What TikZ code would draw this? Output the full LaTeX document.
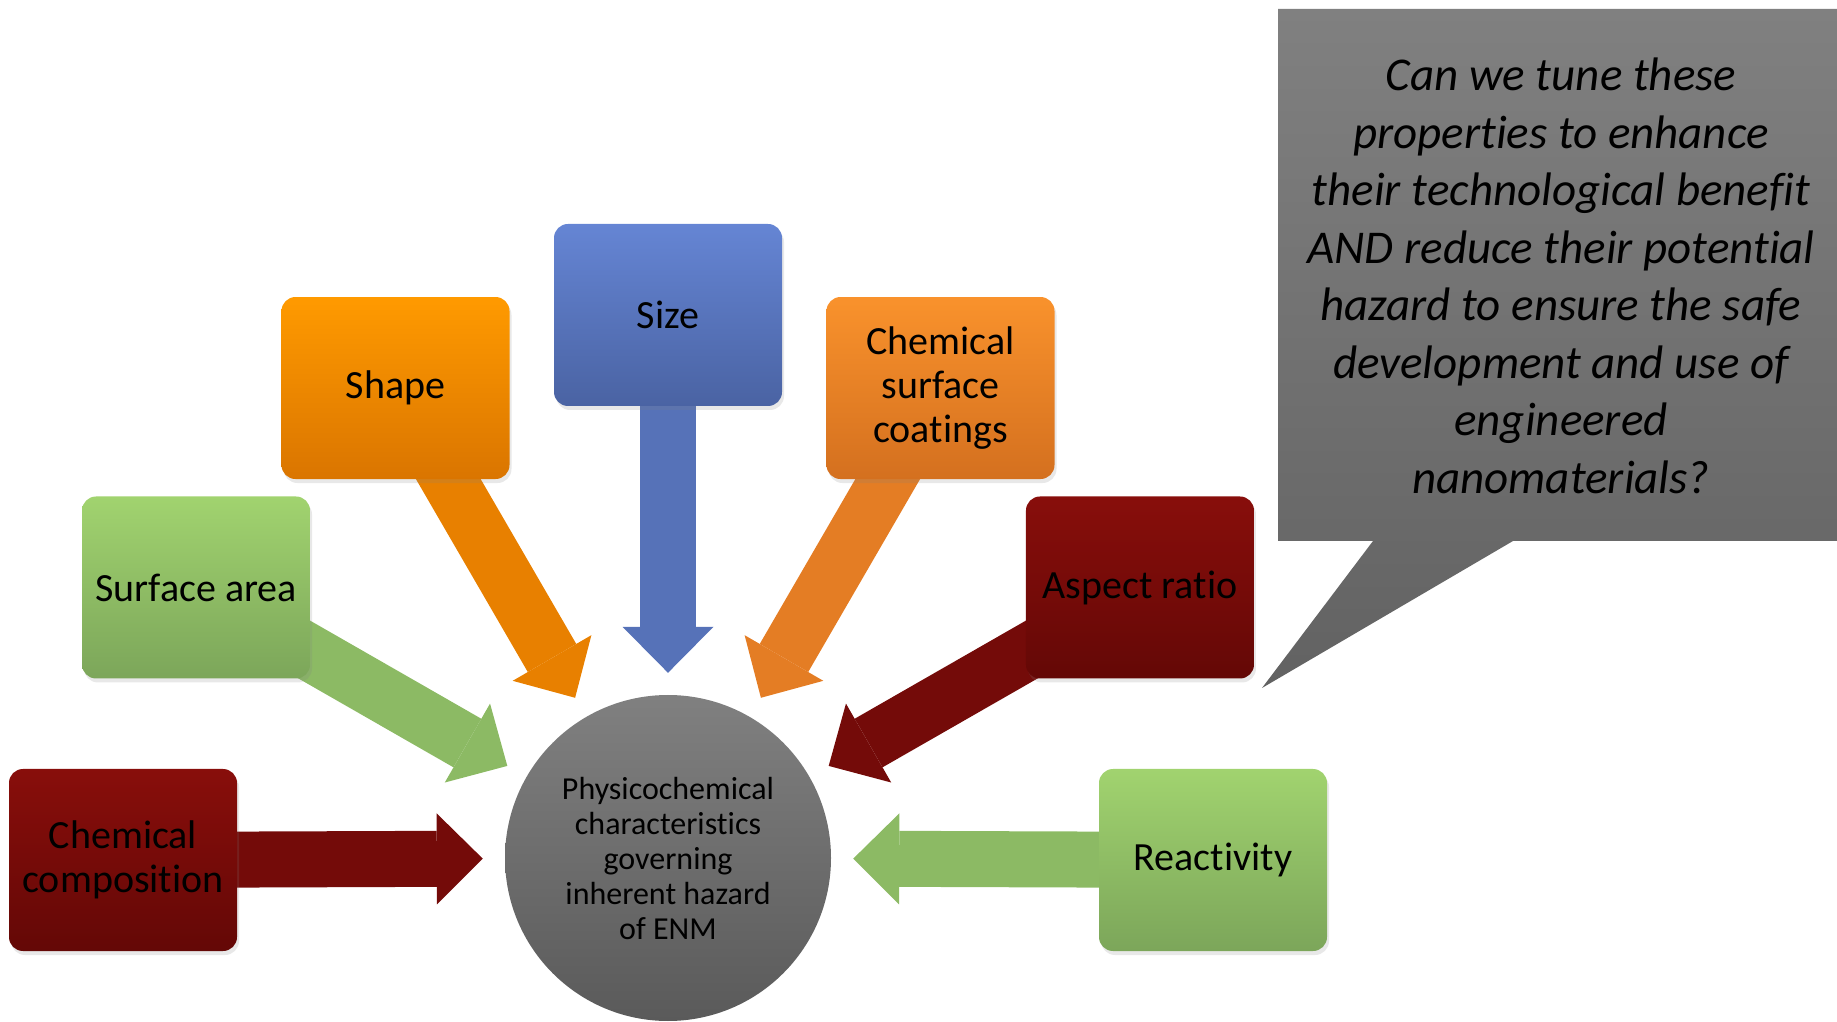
\documentclass[tikz,border=0pt]{standalone}
\usepackage{fontspec}
\setmainfont{Carlito}[Ligatures=NoCommon]
\usepackage{tikz}
\usetikzlibrary{calc}
\usetikzlibrary{arrows.meta}
\usetikzlibrary{shadows}
\pgfdeclarelayer{background}
\pgfsetlayers{background,main}

\definecolor{dredhi}{RGB}{136,14,11}
\definecolor{dredlo}{RGB}{100,8,6}
\definecolor{dredmid}{RGB}{116,11,9}
\definecolor{greenhi}{RGB}{161,211,111}
\definecolor{greenlo}{RGB}{124,166,90}
\definecolor{greenmid}{RGB}{140,186,100}
\definecolor{orangehi}{RGB}{255,154,0}
\definecolor{orangelo}{RGB}{218,117,0}
\definecolor{orangemid}{RGB}{232,128,0}
\definecolor{bluehi}{RGB}{101,133,212}
\definecolor{bluelo}{RGB}{74,99,163}
\definecolor{bluemid}{RGB}{86,114,184}
\definecolor{amberhi}{RGB}{249,146,44}
\definecolor{amberlo}{RGB}{212,112,31}
\definecolor{ambermid}{RGB}{228,125,36}
\definecolor{greyhi}{RGB}{128,128,128}
\definecolor{greylo}{RGB}{90,90,90}
\definecolor{bubblelo}{RGB}{98,98,98}

\begin{document}
\begin{tikzpicture}[x=1pt,y=1pt,
		box/.style={rectangle, rounded corners=14pt, minimum width=228pt, minimum height=182pt,
			align=center, font=\fontsize{40}{44}\selectfont,
			drop shadow={opacity=.18, shadow xshift=2pt, shadow yshift=-4pt}},
		fat/.style={line width=56pt, -{Triangle[width=91pt,length=46pt,line width=0pt]}, shorten >=22pt},
	]
	\useasboundingbox (0,0) rectangle (1837,1021);

	\node [circle, minimum size=326pt, inner sep=0pt, top color=greyhi, bottom color=greylo,
		align=center, font=\fontsize{32}{35}\selectfont] (hub) at (668,163)
		{Physicochemical\\characteristics\\governing\\inherent hazard\\of ENM};

	\foreach \ang/\name/\p/\txt in {180/comp/dred/{Chemical\\composition}, 150/area/green/{Surface area},
			120/shape/orange/{Shape}, 90/size/blue/{Size}, 60/coat/amber/{Chemical\\surface\\coatings},
			30/aspect/dred/{Aspect ratio}, 0/react/green/{Reactivity}} {
		\node [box, top color=\p hi, bottom color=\p lo] (\name) at ($(hub.center)+(\ang:545)+(0,-2)$) {\txt};
		\begin{pgfonlayer}{background}
			\draw [fat, color=\p mid] (\name.center) -- (hub);
		\end{pgfonlayer}
	}

	\coordinate (beak) at (1262,333);
	\shade [top color=greyhi, bottom color=bubblelo]
		(1278,1012) -- (1837,1012) -- (1837,480) -- (1513,480) -- (beak) -- (1373,480) -- (1278,480) -- cycle;
	\node [align=center, font=\fontsize{47}{57.5}\selectfont\itshape] (ask) at (1561,745)
		{Can we tune these\\properties to enhance\\their technological benefit\\AND reduce their potential\\hazard to ensure the safe\\development and use of\\engineered\\nanomaterials?};
\end{tikzpicture}
\end{document}
